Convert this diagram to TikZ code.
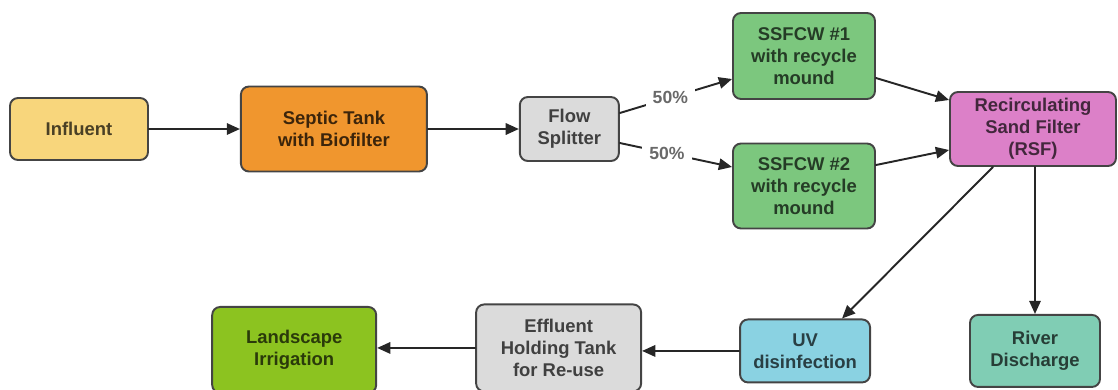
\documentclass[tikz,border=0pt]{standalone}
\usepackage{fontspec}
\setmainfont{Liberation Sans}
\usetikzlibrary{arrows.meta, calc, positioning}
\definecolor{ink}{HTML}{444444}
\definecolor{fillinfl}{HTML}{F8D67C}
\definecolor{filltank}{HTML}{F0962E}
\definecolor{fillgray}{HTML}{DBDBDB}
\definecolor{fillwet}{HTML}{7CC77E}
\definecolor{fillrsf}{HTML}{DC80C8}
\definecolor{filluv}{HTML}{8AD2E2}
\definecolor{fillriver}{HTML}{80CDB4}
\definecolor{fillland}{HTML}{8CC320}
\tikzset{
  >={Triangle[length=7.5pt, width=6.5pt]},
  every picture/.style={line cap=round, line join=round},
  box/.style={draw=ink, line width=1.1pt, rounded corners=0.16cm, align=center,
              font=\fontsize{10.5}{12.5}\selectfont\bfseries, inner sep=3pt},
  flow/.style={->, line width=1.1pt, draw=black!85},
  pct/.style={fill=white, font=\fontsize{10}{12}\selectfont\bfseries, text=ink!80, inner sep=4pt},
}
\begin{document}
\begin{tikzpicture}[flow]
  \useasboundingbox (0,0) rectangle (22.36,-7.78);
  % top row
  \node[box, fill=fillinfl, text=fillinfl!30!black, minimum width=2.76cm, minimum height=1.24cm]
    (infl) at (1.58,-2.58) {Influent};
  \node[box, fill=filltank, text=filltank!25!black, minimum width=3.72cm, minimum height=1.7cm,
    right=1.82cm of infl] (tank) {Septic Tank\\with Biofilter};
  \node[box, fill=fillgray, text=black!75, minimum width=1.98cm, minimum height=1.28cm,
    right=1.82cm of tank] (split) {Flow\\Splitter};
  \node[box, fill=fillwet, text=fillwet!30!black, minimum width=2.84cm, minimum height=1.72cm]
    (wet1) at (16.08,-1.12) {SSFCW \#1\\with recycle\\mound};
  \node[box, fill=fillwet, text=fillwet!30!black, minimum width=2.84cm, minimum height=1.7cm]
    (wet2) at (16.08,-3.72) {SSFCW \#2\\with recycle\\mound};
  \node[box, fill=fillrsf, text=fillrsf!30!black, minimum width=3.32cm, minimum height=1.48cm]
    (rsf) at (20.66,-2.58) {Recirculating\\Sand Filter\\(RSF)};
  % bottom row
  \node[box, fill=fillriver, text=fillriver!30!black, minimum width=2.6cm, minimum height=1.44cm,
    below=2.94cm of rsf, xshift=0.04cm] (river) {River\\Discharge};
  \node[box, fill=filluv, text=filluv!30!black, minimum width=2.6cm, minimum height=1.26cm,
    left=1.96cm of river] (uv) {UV\\disinfection};
  \node[box, fill=fillgray, text=black!75, minimum width=3.3cm, minimum height=1.74cm,
    left=1.94cm of uv, yshift=0.06cm] (eff) {Effluent\\Holding Tank\\for Re-use};
  \node[box, fill=fillland, text=fillland!30!black, minimum width=3.28cm, minimum height=1.72cm,
    left=1.96cm of eff, yshift=-0.04cm] (land) {Landscape\\Irrigation};
  % connectors
  \draw (infl) -- (tank);
  \draw (tank) -- (split);
  \draw ($(split.east)+(0,0.32)$) -- node[pct, pos=0.45] {50\%} ($(wet1.west)+(0,-0.46)$);
  \draw ($(split.east)+(0,-0.28)$) -- node[pct, pos=0.42] {50\%} ($(wet2.west)+(0,0.38)$);
  \draw ($(wet1.east)+(0,-0.44)$) -- ($(rsf.west)+(0,0.58)$);
  \draw ($(wet2.east)+(0,0.42)$) -- ($(rsf.west)+(0,-0.42)$);
  \draw ($(rsf.south)+(-0.8,0)$) -- ($(uv.north)+(0.74,0)$);
  \draw (rsf.south -| river.north) -- (river.north);
  \draw (uv.west) -- (uv.west -| eff.east);
  \draw (eff.west) -- (eff.west -| land.east);
\end{tikzpicture}
\end{document}
